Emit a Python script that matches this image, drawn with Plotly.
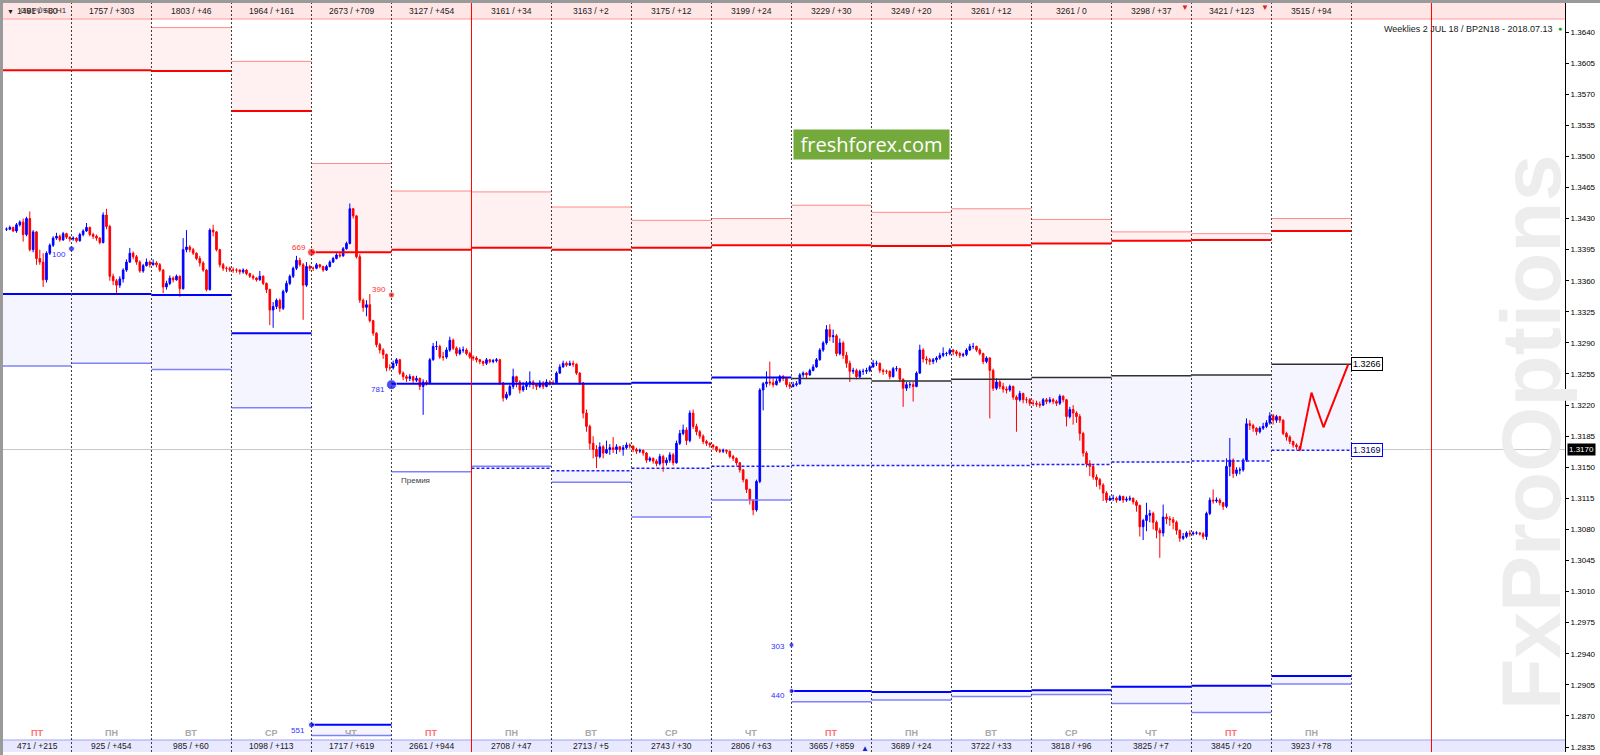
import plotly.graph_objects as go

# ---------------- data ----------------
candles_per_day = [20] + [24] * 15 + [9]
first_hour = 4
first_open = 1.3418

close = [
    1.3418,1.3420,1.3416,1.3423,1.3426,1.3412,1.3430,1.3395,1.3415,1.3385,1.3381,1.3361,1.3391,1.3400,1.3408,1.3410,1.3406,1.3413,1.3409,1.3407,
    1.3408,1.3405,1.3412,1.3416,1.3420,1.3412,1.3410,1.3408,1.3403,1.3434,1.3421,1.3365,1.3360,1.3355,1.3362,1.3372,1.3381,1.3391,1.3387,1.3381,1.3371,1.3377,1.3381,1.3378,
    1.3380,1.3378,1.3372,1.3353,1.3357,1.3363,1.3361,1.3365,1.3351,1.3395,1.3398,1.3395,1.3391,1.3385,1.3380,1.3372,1.3350,1.3417,1.3415,1.3395,1.3378,1.3374,1.3374,1.3372,
    1.3372,1.3372,1.3370,1.3372,1.3368,1.3365,1.3363,1.3361,1.3365,1.3357,1.3350,1.3327,1.3331,1.3338,1.3329,1.3348,1.3357,1.3365,1.3374,1.3383,1.3378,1.3355,1.3376,1.3374,
    1.3374,1.3378,1.3376,1.3372,1.3376,1.3381,1.3385,1.3389,1.3388,1.3396,1.3402,1.3441,1.3433,1.3387,1.3338,1.3330,1.3333,1.3315,1.3301,1.3288,1.3282,1.3277,1.3262,1.3262,
    1.3267,1.3271,1.3256,1.3252,1.3250,1.3252,1.3248,1.3250,1.3241,1.3246,1.3245,1.3271,1.3286,1.3286,1.3274,1.3274,1.3282,1.3293,1.3284,1.3278,1.3282,1.3282,1.3278,1.3274,
    1.3273,1.3271,1.3269,1.3267,1.3271,1.3269,1.3270,1.3271,1.3245,1.3228,1.3232,1.3241,1.3252,1.3246,1.3237,1.3241,1.3245,1.3246,1.3243,1.3241,1.3245,1.3241,1.3246,1.3245,
    1.3245,1.3256,1.3263,1.3267,1.3265,1.3267,1.3266,1.3256,1.3245,1.3211,1.3196,1.3177,1.3170,1.3162,1.3173,1.3166,1.3170,1.3172,1.3170,1.3173,1.3170,1.3172,1.3175,1.3174,
    1.3170,1.3168,1.3169,1.3166,1.3158,1.3160,1.3157,1.3154,1.3162,1.3155,1.3158,1.3164,1.3155,1.3177,1.3188,1.3192,1.3180,1.3211,1.3196,1.3190,1.3185,1.3179,1.3177,1.3175,
    1.3173,1.3169,1.3168,1.3169,1.3168,1.3162,1.3160,1.3155,1.3147,1.3136,1.3125,1.3113,1.3102,1.3134,1.3237,1.3244,1.3246,1.3245,1.3243,1.3247,1.3252,1.3250,1.3243,1.3241,
    1.3243,1.3244,1.3254,1.3256,1.3254,1.3259,1.3263,1.3271,1.3282,1.3290,1.3305,1.3297,1.3298,1.3278,1.3290,1.3276,1.3267,1.3258,1.3259,1.3252,1.3258,1.3258,1.3259,1.3263,
    1.3267,1.3267,1.3259,1.3258,1.3258,1.3252,1.3261,1.3261,1.3249,1.3239,1.3243,1.3243,1.3241,1.3256,1.3282,1.3272,1.3271,1.3269,1.3271,1.3273,1.3276,1.3278,1.3278,1.3282,
    1.3280,1.3278,1.3276,1.3277,1.3282,1.3286,1.3286,1.3282,1.3278,1.3269,1.3273,1.3259,1.3239,1.3246,1.3241,1.3238,1.3237,1.3241,1.3229,1.3226,1.3233,1.3226,1.3226,1.3222,
    1.3222,1.3221,1.3220,1.3226,1.3224,1.3226,1.3224,1.3222,1.3230,1.3226,1.3207,1.3215,1.3211,1.3207,1.3188,1.3166,1.3154,1.3151,1.3139,1.3136,1.3130,1.3121,1.3113,1.3115,
    1.3115,1.3113,1.3117,1.3113,1.3114,1.3115,1.3111,1.3107,1.3083,1.3090,1.3096,1.3098,1.3088,1.3079,1.3076,1.3094,1.3092,1.3091,1.3088,1.3079,1.3070,1.3072,1.3076,1.3075,
    1.3076,1.3076,1.3075,1.3072,1.3098,1.3113,1.3112,1.3113,1.3110,1.3106,1.3151,1.3158,1.3143,1.3147,1.3147,1.3158,1.3199,1.3197,1.3194,1.3190,1.3194,1.3196,1.3200,1.3208,
    1.3203,1.3207,1.3203,1.3188,1.3184,1.3179,1.3175,1.3173,1.3170,
]
high = [
    1.3420,1.3422,1.3421,1.3425,1.3428,1.3430,1.3432,1.3438,1.3417,1.3416,1.3395,1.3391,1.3393,1.3402,1.3410,1.3414,1.3412,1.3415,1.3414,1.3410,
    1.3410,1.3409,1.3414,1.3418,1.3425,1.3421,1.3414,1.3412,1.3409,1.3437,1.3441,1.3423,1.3368,1.3362,1.3365,1.3374,1.3384,1.3397,1.3393,1.3389,1.3383,1.3379,1.3385,1.3383,
    1.3384,1.3382,1.3380,1.3373,1.3360,1.3366,1.3365,1.3367,1.3366,1.3408,1.3417,1.3400,1.3397,1.3392,1.3388,1.3382,1.3373,1.3419,1.3423,1.3416,1.3396,1.3380,1.3376,1.3376,
    1.3375,1.3374,1.3373,1.3374,1.3373,1.3369,1.3367,1.3364,1.3371,1.3366,1.3358,1.3351,1.3336,1.3340,1.3340,1.3350,1.3360,1.3367,1.3376,1.3388,1.3386,1.3380,1.3381,1.3378,
    1.3376,1.3380,1.3379,1.3377,1.3378,1.3383,1.3387,1.3391,1.3392,1.3398,1.3404,1.3447,1.3442,1.3434,1.3390,1.3340,1.3338,1.3345,1.3316,1.3302,1.3290,1.3284,1.3278,1.3266,
    1.3270,1.3273,1.3272,1.3258,1.3254,1.3255,1.3253,1.3253,1.3251,1.3249,1.3248,1.3273,1.3290,1.3292,1.3288,1.3280,1.3285,1.3297,1.3295,1.3286,1.3285,1.3286,1.3284,1.3280,
    1.3276,1.3275,1.3272,1.3270,1.3273,1.3272,1.3272,1.3273,1.3272,1.3246,1.3235,1.3243,1.3261,1.3253,1.3248,1.3246,1.3247,1.3258,1.3248,1.3245,1.3248,1.3247,1.3249,1.3248,
    1.3248,1.3258,1.3266,1.3270,1.3269,1.3270,1.3270,1.3267,1.3257,1.3246,1.3215,1.3198,1.3185,1.3175,1.3178,1.3175,1.3180,1.3176,1.3184,1.3176,1.3174,1.3175,1.3178,1.3177,
    1.3174,1.3172,1.3171,1.3170,1.3167,1.3162,1.3161,1.3159,1.3165,1.3164,1.3161,1.3167,1.3166,1.3180,1.3192,1.3198,1.3195,1.3214,1.3215,1.3199,1.3192,1.3187,1.3181,1.3178,
    1.3176,1.3174,1.3171,1.3171,1.3170,1.3169,1.3164,1.3161,1.3156,1.3148,1.3137,1.3126,1.3114,1.3136,1.3239,1.3246,1.3258,1.3269,1.3250,1.3250,1.3254,1.3254,1.3251,1.3246,
    1.3246,1.3247,1.3256,1.3258,1.3257,1.3261,1.3266,1.3273,1.3284,1.3292,1.3310,1.3311,1.3305,1.3300,1.3295,1.3292,1.3280,1.3270,1.3262,1.3261,1.3260,1.3261,1.3262,1.3265,
    1.3271,1.3270,1.3268,1.3261,1.3260,1.3259,1.3263,1.3264,1.3262,1.3250,1.3246,1.3246,1.3246,1.3258,1.3288,1.3284,1.3275,1.3273,1.3273,1.3275,1.3279,1.3285,1.3280,1.3284,
    1.3283,1.3282,1.3280,1.3279,1.3284,1.3289,1.3290,1.3287,1.3284,1.3279,1.3275,1.3274,1.3261,1.3250,1.3248,1.3245,1.3241,1.3243,1.3242,1.3231,1.3236,1.3234,1.3229,1.3228,
    1.3226,1.3225,1.3224,1.3228,1.3228,1.3229,1.3228,1.3226,1.3232,1.3231,1.3227,1.3218,1.3220,1.3213,1.3210,1.3190,1.3168,1.3158,1.3153,1.3142,1.3138,1.3132,1.3123,1.3118,
    1.3119,1.3117,1.3119,1.3118,1.3117,1.3118,1.3116,1.3113,1.3108,1.3092,1.3110,1.3102,1.3100,1.3090,1.3082,1.3108,1.3098,1.3095,1.3094,1.3090,1.3080,1.3076,1.3078,1.3079,
    1.3078,1.3078,1.3077,1.3077,1.3100,1.3116,1.3125,1.3116,1.3115,1.3111,1.3160,1.3183,1.3160,1.3150,1.3150,1.3160,1.3205,1.3203,1.3199,1.3195,1.3196,1.3200,1.3203,1.3212,
    1.3210,1.3209,1.3208,1.3204,1.3190,1.3186,1.3180,1.3177,1.3174,
]
low = [
    1.3416,1.3417,1.3415,1.3414,1.3421,1.3404,1.3410,1.3393,1.3392,1.3378,1.3378,1.3353,1.3358,1.3389,1.3398,1.3406,1.3404,1.3405,1.3407,1.3404,
    1.3405,1.3403,1.3404,1.3410,1.3415,1.3410,1.3407,1.3405,1.3401,1.3402,1.3418,1.3360,1.3355,1.3344,1.3352,1.3358,1.3370,1.3380,1.3384,1.3378,1.3369,1.3369,1.3376,1.3375,
    1.3377,1.3375,1.3370,1.3346,1.3350,1.3355,1.3358,1.3360,1.3342,1.3350,1.3392,1.3392,1.3389,1.3383,1.3376,1.3370,1.3348,1.3349,1.3410,1.3393,1.3375,1.3371,1.3370,1.3370,
    1.3369,1.3369,1.3367,1.3368,1.3366,1.3363,1.3361,1.3359,1.3360,1.3355,1.3346,1.3310,1.3307,1.3328,1.3325,1.3327,1.3346,1.3355,1.3363,1.3372,1.3376,1.3316,1.3353,1.3371,
    1.3371,1.3373,1.3374,1.3370,1.3371,1.3375,1.3380,1.3384,1.3386,1.3387,1.3395,1.3401,1.3430,1.3385,1.3335,1.3325,1.3320,1.3313,1.3298,1.3285,1.3278,1.3272,1.3258,1.3259,
    1.3260,1.3264,1.3254,1.3248,1.3246,1.3247,1.3245,1.3246,1.3237,1.3209,1.3242,1.3244,1.3270,1.3282,1.3272,1.3270,1.3272,1.3280,1.3282,1.3275,1.3276,1.3279,1.3276,1.3272,
    1.3270,1.3268,1.3266,1.3264,1.3265,1.3267,1.3267,1.3268,1.3243,1.3224,1.3226,1.3230,1.3238,1.3240,1.3233,1.3235,1.3237,1.3240,1.3238,1.3237,1.3239,1.3238,1.3240,1.3242,
    1.3243,1.3244,1.3255,1.3262,1.3263,1.3264,1.3263,1.3254,1.3243,1.3205,1.3190,1.3170,1.3160,1.3149,1.3160,1.3160,1.3165,1.3164,1.3166,1.3165,1.3167,1.3163,1.3170,1.3171,
    1.3167,1.3165,1.3166,1.3163,1.3155,1.3156,1.3154,1.3151,1.3152,1.3145,1.3152,1.3155,1.3152,1.3154,1.3175,1.3186,1.3175,1.3178,1.3193,1.3186,1.3182,1.3176,1.3174,1.3172,
    1.3170,1.3167,1.3166,1.3166,1.3165,1.3160,1.3157,1.3152,1.3144,1.3133,1.3121,1.3108,1.3096,1.3100,1.3132,1.3214,1.3240,1.3242,1.3240,1.3242,1.3245,1.3247,1.3240,1.3238,
    1.3240,1.3241,1.3243,1.3251,1.3250,1.3253,1.3258,1.3262,1.3270,1.3280,1.3288,1.3292,1.3290,1.3275,1.3276,1.3272,1.3262,1.3246,1.3255,1.3249,1.3250,1.3254,1.3255,1.3257,
    1.3262,1.3264,1.3256,1.3254,1.3255,1.3249,1.3251,1.3258,1.3246,1.3218,1.3236,1.3239,1.3224,1.3240,1.3255,1.3268,1.3266,1.3265,1.3266,1.3268,1.3271,1.3274,1.3275,1.3276,
    1.3276,1.3275,1.3273,1.3274,1.3275,1.3281,1.3283,1.3280,1.3276,1.3266,1.3267,1.3205,1.3236,1.3237,1.3238,1.3234,1.3233,1.3235,1.3226,1.3190,1.3224,1.3222,1.3222,1.3219,
    1.3219,1.3218,1.3217,1.3219,1.3221,1.3222,1.3221,1.3219,1.3220,1.3223,1.3196,1.3205,1.3198,1.3200,1.3180,1.3162,1.3150,1.3140,1.3136,1.3128,1.3125,1.3112,1.3110,1.3112,
    1.3112,1.3110,1.3112,1.3110,1.3111,1.3112,1.3108,1.3100,1.3072,1.3068,1.3078,1.3088,1.3080,1.3070,1.3048,1.3072,1.3086,1.3084,1.3080,1.3074,1.3066,1.3068,1.3070,1.3072,
    1.3073,1.3074,1.3073,1.3069,1.3068,1.3096,1.3109,1.3110,1.3107,1.3102,1.3104,1.3140,1.3138,1.3140,1.3142,1.3145,1.3156,1.3192,1.3190,1.3186,1.3188,1.3192,1.3194,1.3198,
    1.3198,1.3200,1.3200,1.3186,1.3180,1.3176,1.3172,1.3170,1.3168,
]

# per-day option levels (17 day columns)
red_level = [1.3597,1.3597,1.3596,1.3551,1.3392,1.3395,1.3397,1.3395,1.3397,1.3400,1.3400,1.3399,1.3400,1.3402,1.3405,1.3406,1.3416]
red_upper = [1.3680,1.3680,1.3645,1.3607,1.3492,1.3461,1.3460,1.3443,1.3428,1.3430,1.3445,1.3437,1.3441,1.3429,1.3415,1.3413,1.3430]
blue_level = [1.3345,1.3345,1.3344,1.3301,1.2860,1.3244,1.3244,1.3244,1.3245,1.3251,1.2898,1.2897,1.2898,1.2899,1.2903,1.2904,1.2915]
blue_lower = [1.3264,1.3267,1.3260,1.3217,1.2848,1.3145,1.3151,1.3133,1.3094,1.3113,1.2886,1.2888,1.2892,1.2894,1.2884,1.2874,1.2906]
black_level = [None]*10 + [1.3250,1.3247,1.3249,1.3251,1.3253,1.3254,1.3266]
dotted_level = [None]*6 + [1.3149,1.3146,1.3149,1.3151,1.3152,1.3152,1.3152,1.3153,1.3156,1.3157,1.3169]
lav_hi = [1.3345,1.3345,1.3344,1.3301,1.2860,None,None,1.3146,1.3149,1.3151,1.3250,1.3247,1.3249,1.3251,1.3253,1.3254,1.3266]
lav_lo = [1.3264,1.3267,1.3260,1.3217,1.2848,None,None,1.3133,1.3094,1.3113,1.3152,1.3152,1.3152,1.3153,1.3156,1.3157,1.3169]

top_labels = ["1491 / +80","1757 / +303","1803 / +46","1964 / +161","2673 / +709","3127 / +454",
              "3161 / +34","3163 / +2","3175 / +12","3199 / +24","3229 / +30","3249 / +20",
              "3261 / +12","3261 / 0","3298 / +37","3421 / +123","3515 / +94"]
bottom_labels = ["471 / +215","925 / +454","985 / +60","1098 / +113","1717 / +619","2661 / +944",
                 "2708 / +47","2713 / +5","2743 / +30","2806 / +63","3665 / +859","3689 / +24",
                 "3722 / +33","3818 / +96","3825 / +7","3845 / +20","3923 / +78"]
day_names = ["ПТ","ПН","ВТ","СР","ЧТ","ПТ","ПН","ВТ","СР","ЧТ","ПТ","ПН","ВТ","СР","ЧТ","ПТ","ПН"]

forecast_x = [16.354, 16.50, 16.65, 16.96]
forecast_y = [1.3169, 1.3234, 1.3195, 1.3266]

point_text = ["100", "669", "390", "781", "551", "303", "440"]
point_day = [1, 4, 5, 5, 4, 10, 10]
point_price = [1.3396, 1.3392, 1.3344, 1.3243, 1.2860, 1.2950, 1.2898]
point_red = [False, True, True, False, False, False, False]

current_price = 1.3170
week_marks = [6, 18]
top_flag_days = [14, 15]
bottom_flag_days = [10]

# ---------------- layout constants ----------------
W, H = 1600, 755
ML, MR, MT, MB = 3, 35, 3, 3
PW, PH = W - ML - MR, H - MT - MB
XR = [0.144, 19.669]
YR = [1.28294, 1.36727]
FONT = "Liberation Sans"


def ppy(py):
    return 1 - (py - MT) / PH


def ppx(px):
    return (px - ML) / PW


# candle x positions
xs = []
for d, n in enumerate(candles_per_day):
    start = first_hour if d == 0 else 0
    for h in range(start, start + n):
        xs.append(d + (h + 0.5) / 24)
opens = [first_open] + close[:-1]

ncol = len(red_level)


def segs(levels):
    X, Y = [], []
    for k, v in enumerate(levels):
        if v is None:
            continue
        X += [k, k + 1, None]
        Y += [v, v, None]
    return X, Y


fig = go.Figure()

shapes = []
# filled zones (behind everything)
for k in range(ncol):
    shapes.append(dict(type="rect", xref="x", yref="y", x0=k, x1=k + 1, y0=red_level[k], y1=red_upper[k],
                       fillcolor="#fff1f1", line=dict(width=0), layer="below"))
    if lav_hi[k] is not None:
        shapes.append(dict(type="rect", xref="x", yref="y", x0=k, x1=k + 1, y0=lav_lo[k], y1=lav_hi[k],
                           fillcolor="#f5f5ff", line=dict(width=0), layer="below"))
    if black_level[k] is not None:
        shapes.append(dict(type="rect", xref="x", yref="y", x0=k, x1=k + 1, y0=blue_lower[k], y1=blue_level[k],
                           fillcolor="#f5f5ff", line=dict(width=0), layer="below"))
# current price line
shapes.append(dict(type="line", xref="paper", x0=0, x1=1, yref="y", y0=current_price, y1=current_price,
                   line=dict(color="#c8c8c8", width=1), layer="below"))

for lv, col, wd, dash in [
    (red_upper, "#ff8a8a", 1, "solid"),
    (blue_lower, "#8080ff", 1.5, "solid"),
    (black_level, "#303030", 1.5, "solid"),
    (dotted_level, "#2020ff", 1.5, "3px,2px"),
]:
    sx, sy = segs(lv)
    fig.add_trace(go.Scatter(x=sx, y=sy, mode="lines", line=dict(color=col, width=wd, dash=dash),
                             hoverinfo="skip", showlegend=False))

fig.add_trace(go.Candlestick(
    x=xs, open=opens, high=high, low=low, close=close,
    increasing=dict(line=dict(color="#0000ff", width=1), fillcolor="#0000ff"),
    decreasing=dict(line=dict(color="#ff0000", width=1), fillcolor="#ff0000"),
    whiskerwidth=0, hoverinfo="skip", showlegend=False))

for lv, col, wd in [(red_level, "#ff0000", 2), (blue_level, "#0000ff", 2)]:
    sx, sy = segs(lv)
    fig.add_trace(go.Scatter(x=sx, y=sy, mode="lines", line=dict(color=col, width=wd),
                             hoverinfo="skip", showlegend=False))

fig.add_trace(go.Scatter(x=forecast_x, y=forecast_y, mode="lines",
                         line=dict(color="#ff0000", width=2), hoverinfo="skip", showlegend=False))

fig.add_trace(go.Scatter(
    x=point_day, y=point_price, mode="markers",
    marker=dict(color=["#ff0000" if r else "#0000ff" for r in point_red],
                size=[6, 8, 6, 10, 6, 5, 5]),
    hoverinfo="skip", showlegend=False))

# top and bottom information bands
shapes.append(dict(type="rect", xref="paper", yref="paper", x0=0, x1=1, y0=ppy(19), y1=ppy(3),
                   fillcolor="#ffe6e6", line=dict(width=0), layer="above"))
shapes.append(dict(type="line", xref="paper", yref="paper", x0=0, x1=1, y0=ppy(19), y1=ppy(19),
                   line=dict(color="#ff9c9c", width=1), layer="above"))
shapes.append(dict(type="rect", xref="paper", yref="paper", x0=0, x1=1, y0=ppy(752), y1=ppy(740),
                   fillcolor="#e8e8ff", line=dict(width=0), layer="above"))
shapes.append(dict(type="line", xref="paper", yref="paper", x0=0, x1=1, y0=ppy(740), y1=ppy(740),
                   line=dict(color="#a0a0ff", width=1), layer="above"))
# day separators
for k in range(1, ncol + 1):
    if k in week_marks:
        continue
    shapes.append(dict(type="line", xref="x", yref="paper", x0=k, x1=k, y0=0, y1=1,
                       line=dict(color="#3a3a3a", width=1, dash="2px,2px"), layer="above"))
for k in week_marks:
    shapes.append(dict(type="line", xref="x", yref="paper", x0=k, x1=k, y0=0, y1=1,
                       line=dict(color="#ff0000", width=1), layer="above"))
# outer frame (top/left)
shapes.append(dict(type="rect", xref="paper", yref="paper", x0=ppx(0), x1=ppx(W), y0=ppy(3), y1=ppy(0),
                   fillcolor="#9a9a9a", line=dict(width=0), layer="above"))
shapes.append(dict(type="rect", xref="paper", yref="paper", x0=ppx(0), x1=ppx(3), y0=ppy(H), y1=ppy(0),
                   fillcolor="#9a9a9a", line=dict(width=0), layer="above"))


def A(**kw):
    kw.setdefault("showarrow", False)
    kw.setdefault("xanchor", "center")
    kw.setdefault("yanchor", "middle")
    return kw


ann = []
col_center = [(XR[0] + 1) / 2] + [k + 0.5 for k in range(1, ncol)]
for k in range(ncol):
    ann.append(A(x=col_center[k], y=ppy(11), xref="x", yref="paper", text=top_labels[k],
                 font=dict(family=FONT, size=8.5, color="#202020")))
    ann.append(A(x=col_center[k], y=ppy(746), xref="x", yref="paper", text=bottom_labels[k],
                 font=dict(family=FONT, size=8.5, color="#202020")))
    red_day = day_names[k] == "ПТ"
    ann.append(A(x=col_center[k], y=ppy(733), xref="x", yref="paper", text="<b>" + day_names[k] + "</b>",
                 font=dict(family=FONT, size=9, color="#ff7070" if red_day else "#a8a8a8")))
ann.append(A(x=ppx(5), y=ppy(11), xref="paper", yref="paper", text="▼", xanchor="left",
             font=dict(family=FONT, size=7, color="#202020")))
ann.append(A(x=ppx(18), y=ppy(10), xref="paper", yref="paper", text="GBPUSD,H1", xanchor="left",
             font=dict(family=FONT, size=8, color="#303030")))
for d in top_flag_days:
    ann.append(A(x=d + 0.92, y=ppy(8), xref="x", yref="paper", text="▼",
                 font=dict(family=FONT, size=8, color="#e02020")))
for d in bottom_flag_days:
    ann.append(A(x=d + 0.92, y=ppy(748), xref="x", yref="paper", text="▲",
                 font=dict(family=FONT, size=8, color="#2020c0")))

offs = {"100": (-3, -6), "669": (-3, 5), "390": (-3, 5), "781": (-4, -5),
        "551": (-4, -6), "303": (-4, -2), "440": (-4, -4)}
for t, d, p, r in zip(point_text, point_day, point_price, point_red):
    dx, dy = offs[t]
    ann.append(A(x=d, y=p, xref="x", yref="y", text=t, xanchor="right",
                 xshift=dx, yshift=dy, font=dict(family=FONT, size=8, color="#ff3030" if r else "#3030ff")))
ann.append(A(x=5, y=blue_lower[5], xref="x", yref="y", text="Премия", xanchor="left",
             xshift=8, yshift=-9, font=dict(family=FONT, size=8, color="#404040")))

# right price tags
ann.append(A(x=17, y=black_level[16], xref="x", yref="y", text="1.3266", xanchor="left",
             bgcolor="#ffffff", bordercolor="#000000", borderwidth=1, borderpad=1,
             font=dict(family=FONT, size=9, color="#000000")))
ann.append(A(x=17, y=dotted_level[16], xref="x", yref="y", text="1.3169", xanchor="left",
             bgcolor="#ffffff", bordercolor="#0000ff", borderwidth=1, borderpad=1,
             font=dict(family=FONT, size=9, color="#000060")))
ann.append(A(x=1, y=current_price, xref="paper", yref="y", text="1.3170", xanchor="left",
             xshift=2, bgcolor="#000000", borderpad=1, font=dict(family=FONT, size=8, color="#ffffff")))

ann.append(A(x=ppx(1555), y=ppy(29), xref="paper", yref="paper",
             text="Weeklies 2 JUL 18 / BP2N18 - 2018.07.13", xanchor="right",
             font=dict(family=FONT, size=9, color="#202020")))
ann.append(A(x=ppx(1560), y=ppy(29), xref="paper", yref="paper", text="●",
             font=dict(family=FONT, size=7, color="#10a010")))
ann.append(A(x=ppx(871), y=ppy(144), xref="paper", yref="paper", text="freshforex.com",
             width=153, height=27, bgcolor="#74aa3c", borderpad=1,
             font=dict(family="Open Sans", size=20, color="#ffffff")))
ann.append(A(x=ppx(1531), y=ppy(433), xref="paper", yref="paper", text="<b>FxProOptions</b>",
             textangle=-90, font=dict(family=FONT, size=84, color="#ededed")))

ticks = [round(1.2835 + 0.0035 * i, 4) for i in range(24)]
fig.update_layout(
    width=W, height=H, margin=dict(l=ML, r=MR, t=MT, b=MB, autoexpand=False),
    paper_bgcolor="#ffffff", plot_bgcolor="#ffffff",
    xaxis=dict(range=XR, visible=False, rangeslider=dict(visible=False), fixedrange=True),
    yaxis=dict(range=YR, side="right", showgrid=False, zeroline=False, showline=True, linecolor="#000000",
               linewidth=1, mirror=True, ticks="outside", ticklen=3, tickcolor="#000000",
               tickvals=ticks, ticktext=[f"{t:.4f}" for t in ticks], fixedrange=True,
               tickfont=dict(family=FONT, size=8, color="#000000")),
    shapes=shapes, annotations=ann, showlegend=False,
)
fig.write_html("out.html", config={"displayModeBar": False},
               post_script="document.body.style.margin='0px';")
